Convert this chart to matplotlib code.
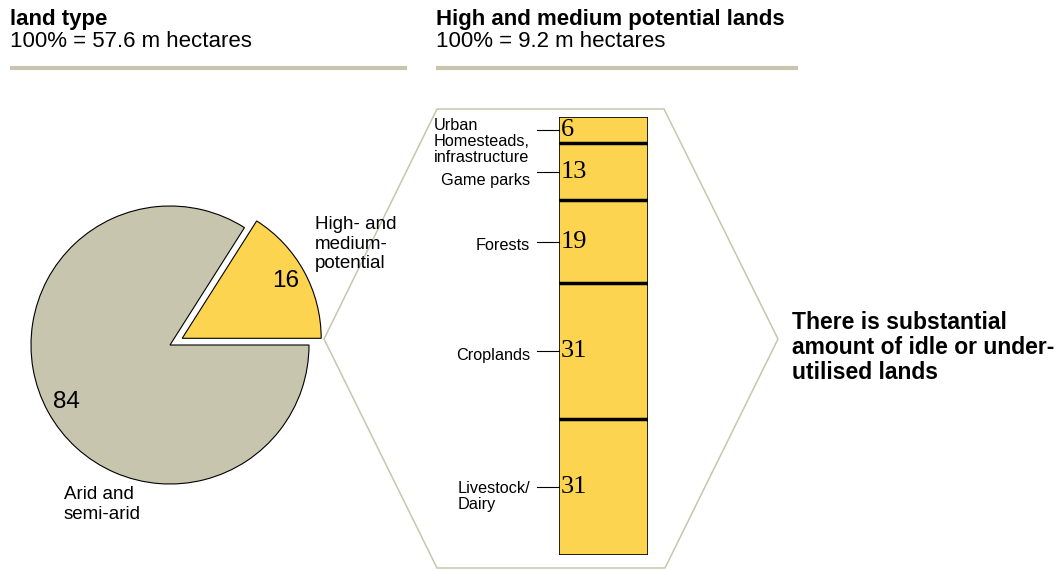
import numpy as np
import matplotlib.pyplot as plt
from matplotlib.patches import Polygon

plt.rcParams['font.family'] = ['Liberation Sans', 'DejaVu Sans']

# data
pie_labels = ['High- and\nmedium-\npotential', 'Arid and\nsemi-arid']
pie_values = [16, 84]

bar_labels = ['Livestock/\nDairy', 'Croplands', 'Forests', 'Game parks',
              'Urban\nHomesteads,\ninfrastructure']
bar_values = [31, 31, 19, 13, 6]

YELLOW = '#FCD450'
GRAY = '#C8C5AE'

W, H = 1057, 571
fig = plt.figure(figsize=(W / 100, H / 100), dpi=100)

# overlay in pixel coords for headers, frame and notes
ov = fig.add_axes([0, 0, 1, 1])
ov.set_xlim(0, W)
ov.set_ylim(H, 0)
ov.axis('off')

ov.text(10, 25, 'land type', fontsize=16, fontweight='bold', va='baseline')
ov.text(10, 47, '100% = 57.6 m hectares', fontsize=16, va='baseline')
ov.plot([10, 407], [68, 68], color=GRAY, lw=3, solid_capstyle='butt')

ov.text(436, 25, 'High and medium potential lands', fontsize=16,
        fontweight='bold', va='baseline')
ov.text(436, 47, '100% = 9.2 m hectares', fontsize=16, va='baseline')
ov.plot([436, 798], [68, 68], color=GRAY, lw=3, solid_capstyle='butt')

# zoom hexagon
hexa = Polygon([(324, 339), (437, 109), (664, 109), (778, 339),
                (665, 568), (437, 568)], closed=True, fill=False,
               edgecolor=GRAY, lw=1.1)
ov.add_patch(hexa)

ov.text(792, 311, 'There is substantial\namount of idle or under-\nutilised lands',
        fontsize=16.5, fontweight='bold', va='top', linespacing=1.12)

# pie
cx, cy, r = 170, 345, 139
side = 2.5 * r
pax = fig.add_axes([(cx - side / 2) / W, (H - cy - side / 2) / H, side / W, side / H])
wedges, texts, autotexts = pax.pie(
    pie_values, explode=[0.1, 0], colors=[YELLOW, GRAY], startangle=0,
    counterclock=True, autopct='%d', pctdistance=0.85,
    wedgeprops=dict(edgecolor='black', linewidth=0.8),
    textprops=dict(fontsize=17.5))
pax.set_xlim(-1.25, 1.25)
pax.set_ylim(-1.25, 1.25)
pax.axis('off')

ov.text(315, 216, pie_labels[0], fontsize=13.5, va='top', linespacing=1.2)
ov.text(64, 486, pie_labels[1], fontsize=13.5, va='top', linespacing=1.2)

# stacked bar
bx0, bx1, by0, by1 = 559, 648, 117, 555
bax = fig.add_axes([bx0 / W, (H - by1) / H, (bx1 - bx0) / W, (by1 - by0) / H])
bottoms = np.concatenate([[0], np.cumsum(bar_values)[:-1]])
bax.bar(0, bar_values, bottom=bottoms, width=1, color=YELLOW,
        edgecolor='black', linewidth=1.2)
bax.hlines(bottoms[1:], -0.5, 0.5, color='black', lw=2.5)
bax.set_xlim(-0.5, 0.5)
bax.set_ylim(0, sum(bar_values))
bax.axis('off')

label_drop = [7, 3, 3, 6, 8]  # points down, to keep labels apart
for val, lab, b, drop in zip(bar_values, bar_labels, bottoms, label_drop):
    mid = b + val / 2
    bax.text(-0.48, mid, str(val), family='Liberation Serif', fontsize=19,
             ha='left', va='center')
    bax.annotate(lab, xy=(-0.5, mid), xytext=(-21, -drop),
                 textcoords='offset points', fontsize=11.7, ha='right',
                 va='center', multialignment='left', linespacing=1.1,
                 annotation_clip=False)
    bax.plot([-0.75, -0.5], [mid, mid], color='black', lw=0.8, clip_on=False)

fig.savefig('out.png', dpi=100)
